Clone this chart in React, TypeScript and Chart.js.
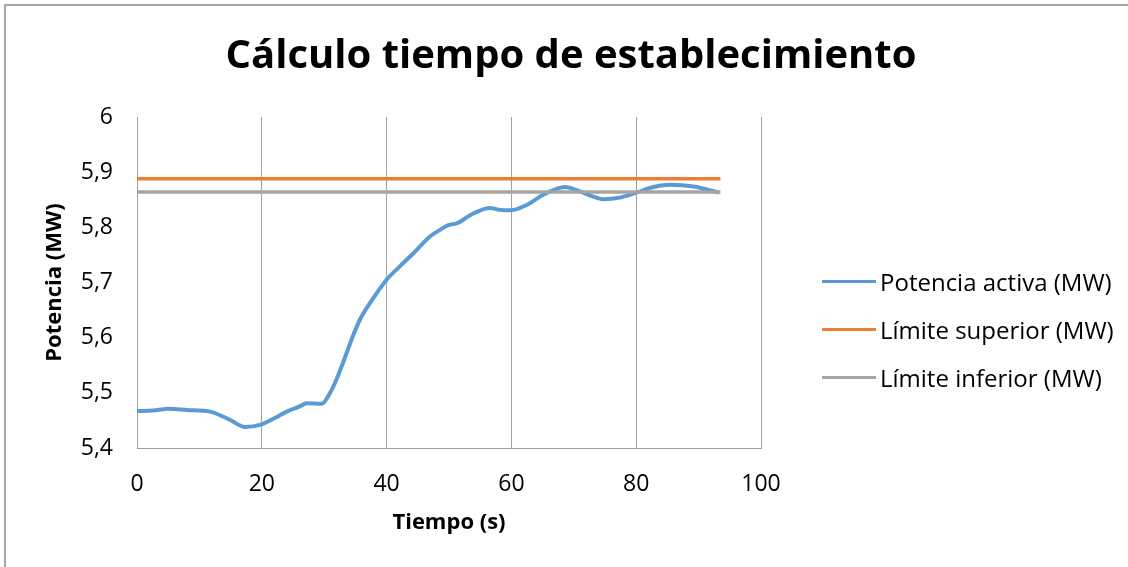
import { useEffect, useRef } from "react";
import { Chart, registerables } from "chart.js";

Chart.register(...registerables);

const chartTitle = "Cálculo tiempo de establecimiento";
const xAxisTitle = "Tiempo (s)";
const yAxisTitle = "Potencia (MW)";
const seriesNames = ["Potencia activa (MW)", "Límite superior (MW)", "Límite inferior (MW)"];
const seriesColors = ["#5b9bd5", "#ed7d31", "#a5a5a5"];

const timeS = [
  0, 2.5, 5.2, 8, 11.7, 14.9, 17.3, 20, 22, 24, 26, 27.2, 29.6, 30.9, 32, 33,
  34.5, 35.7, 37.3, 40, 42, 44.3, 46.9, 48.5, 49.9, 51.2, 53.9, 56.6, 58, 60,
  62.5, 65.1, 66.8, 68.6, 71, 73, 74.7, 77.4, 80, 82.8, 85.4, 89.2, 93.3,
];
const potenciaMW = [
  5.467, 5.468, 5.471, 5.469, 5.466, 5.451, 5.438, 5.443, 5.454, 5.466, 5.475,
  5.481, 5.48, 5.499, 5.525, 5.554, 5.6, 5.632, 5.662, 5.705, 5.728, 5.753,
  5.783, 5.795, 5.804, 5.807, 5.825, 5.835, 5.832, 5.831, 5.841, 5.859, 5.868,
  5.873, 5.865, 5.856, 5.851, 5.854, 5.863, 5.873, 5.877, 5.874, 5.863,
];
const limitTimes = [0, 93.5];
const limiteSuperior = [5.888, 5.888];
const limiteInferior = [5.864, 5.864];

const xMin = 0;
const xMax = 100;
const xStep = 20;
const yMin = 5.4;
const yMax = 6;
const yStep = 0.1;

const FONT = "'Open Sans'";

export default function App() {
  const ref = useRef<HTMLCanvasElement>(null);

  useEffect(() => {
    document.body.style.margin = "0";
    const toPts = (xs: number[], ys: number[]) => xs.map((x, i) => ({ x, y: ys[i] }));
    const chart = new Chart(ref.current!, {
      type: "line",
      data: {
        datasets: [
          {
            label: seriesNames[0],
            data: toPts(timeS, potenciaMW),
            borderColor: seriesColors[0],
            backgroundColor: seriesColors[0],
            borderWidth: 4,
            pointRadius: 0,
            tension: 0.4,
            cubicInterpolationMode: "monotone",
            order: 3,
          },
          {
            label: seriesNames[1],
            data: toPts(limitTimes, limiteSuperior),
            borderColor: seriesColors[1],
            backgroundColor: seriesColors[1],
            borderWidth: 3.5,
            pointRadius: 0,
            order: 2,
          },
          {
            label: seriesNames[2],
            data: toPts(limitTimes, limiteInferior),
            borderColor: seriesColors[2],
            backgroundColor: seriesColors[2],
            borderWidth: 3.5,
            pointRadius: 0,
            order: 1,
          },
        ],
      },
      options: {
        responsive: false,
        animation: false,
        devicePixelRatio: 1,
        layout: { padding: { left: 14, right: 0, top: 0, bottom: 0 } },
        plugins: {
          tooltip: { enabled: false },
          legend: { display: false },
          title: {
            display: true,
            text: chartTitle,
            color: "#000",
            font: { family: FONT, size: 40, weight: "bold" },
            padding: { top: 33, bottom: 36 },
          },
        },
        scales: {
          x: {
            type: "linear",
            min: xMin,
            max: xMax,
            ticks: {
              stepSize: xStep,
              color: "#000",
              font: { family: FONT, size: 23 },
              padding: 23,
            },
            grid: { display: true, color: "#a0a0a0", lineWidth: 1, drawTicks: false },
            border: { display: true, color: "#a0a0a0", width: 1 },
            title: {
              display: true,
              text: xAxisTitle,
              color: "#000",
              font: { family: FONT, size: 22, weight: "bold" },
              padding: { top: 0, bottom: 30.8 },
            },
            afterFit: (s: any) => {
              s.height = 119;
            },
          },
          y: {
            type: "linear",
            min: yMin,
            max: yMax,
            ticks: {
              stepSize: yStep,
              color: "#000",
              font: { family: FONT, size: 23 },
              padding: 24,
              callback: (v: any) => String(Math.round(Number(v) * 10) / 10).replace(".", ","),
            },
            grid: { display: true, drawOnChartArea: false, drawTicks: false },
            border: { display: true, color: "#a0a0a0", width: 1 },
            title: {
              display: true,
              text: yAxisTitle,
              color: "#000",
              font: { family: FONT, size: 22, weight: "bold" },
              padding: { top: 27.8, bottom: 0 },
            },
            afterFit: (s: any) => {
              s.width = 123;
            },
          },
          legendSpace: {
            type: "linear",
            position: "right",
            display: true,
            grid: { display: false },
            border: { display: false },
            ticks: { display: false },
            afterFit: (s: any) => {
              s.width = 367;
            },
          },
        },
      } as any,
    });
    return () => chart.destroy();
  }, []);

  const legendTops = [281.7, 329.3, 377.3];

  return (
    <div style={{ position: "relative", width: 1128, height: 567, overflow: "hidden", background: "#fff" }}>
      <canvas ref={ref} width={1128} height={567} style={{ display: "block" }} />
      {seriesNames.map((name, i) => (
        <div
          key={name}
          style={{
            position: "absolute",
            left: 822,
            top: legendTops[i] - 16,
            height: 32,
            display: "flex",
            alignItems: "center",
            fontFamily: "'Open Sans', sans-serif",
            fontSize: 24,
            color: "#000",
            whiteSpace: "nowrap",
          }}
        >
          <span style={{ display: "inline-block", width: 54, height: 3, background: seriesColors[i], marginRight: 4 }} />
          <span>{name}</span>
        </div>
      ))}
      <div
        style={{
          position: "absolute",
          left: 4,
          top: 4,
          width: 1200,
          height: 700,
          borderTop: "2px solid #a6a6a6",
          borderLeft: "2px solid #a6a6a6",
          pointerEvents: "none",
        }}
      />
    </div>
  );
}
